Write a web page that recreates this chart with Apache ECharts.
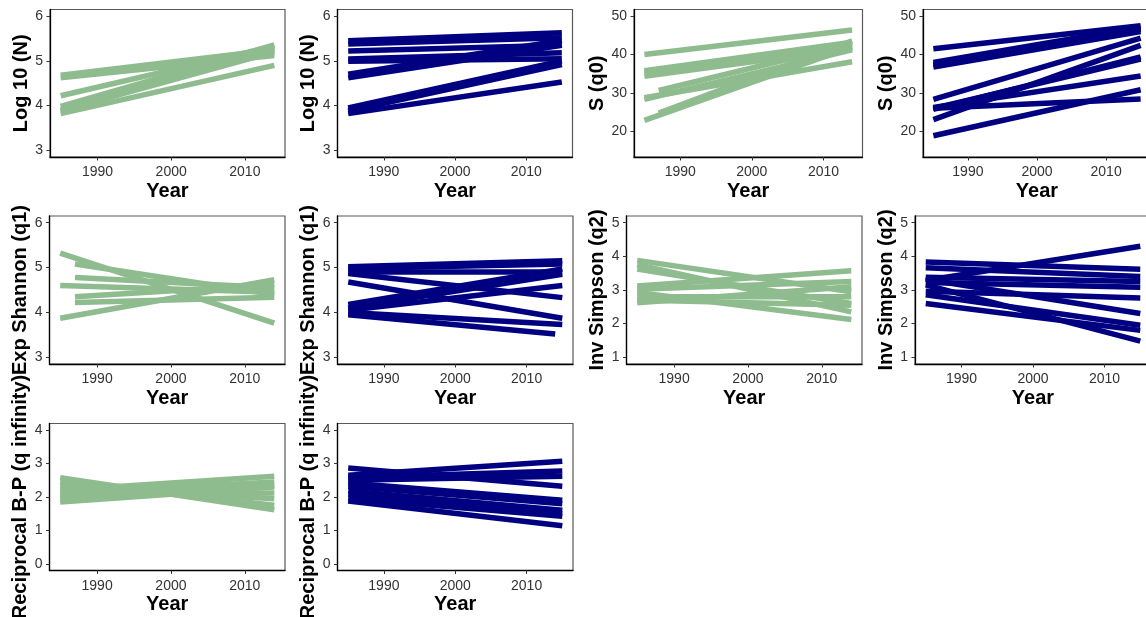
<!DOCTYPE html>
<html><head><meta charset="utf-8">
<script src="https://cdn.jsdelivr.net/npm/echarts@6/dist/echarts.min.js"></script>
<style>html,body{margin:0;padding:0;background:#fff}#c{width:1146px;height:617px}</style>
</head><body><div id="c"></div>
<script>
// ---- data: each row is one fitted line [startYear, startValue, endYear, endValue]
const xTicks = [1990, 2000, 2010];
const tickLog = [3, 4, 5, 6];
const tickS = [20, 30, 40, 50];
const tickShannon = [3, 4, 5, 6];
const tickSimpson = [1, 2, 3, 4, 5];
const tickBP = [0, 1, 2, 3, 4];

const logN_green = [
  [1985, 4.68, 2014, 5.25], [1985, 4.62, 2014, 5.12], [1985, 4.22, 2014, 5.33],
  [1985, 3.98, 2014, 5.36], [1985, 3.90, 2014, 5.27], [1985, 3.88, 2014, 5.20],
  [1985, 3.82, 2014, 4.90]
];
const logN_blue = [
  [1985, 5.45, 2015, 5.63], [1985, 5.38, 2015, 5.52], [1985, 5.22, 2015, 5.35],
  [1985, 5.04, 2015, 5.18], [1985, 4.99, 2015, 5.05], [1985, 4.70, 2015, 5.46],
  [1985, 4.62, 2015, 5.35], [1985, 3.95, 2015, 5.00], [1985, 3.88, 2015, 4.92],
  [1985, 3.82, 2015, 4.53]
];
const S_green = [
  [1985, 40.0, 2014, 46.4], [1985, 35.8, 2014, 43.2], [1985, 35.3, 2014, 42.4],
  [1985, 34.3, 2014, 41.6], [1987, 30.6, 2014, 42.8], [1985, 28.3, 2014, 41.2],
  [1985, 28.7, 2014, 38.1], [1985, 22.8, 2014, 42.0], [1987, 24.7, 2014, 43.6]
];
const S_blue = [
  [1985, 41.5, 2015, 47.5], [1985, 37.9, 2015, 47.2], [1985, 37.3, 2015, 46.6],
  [1985, 36.7, 2015, 46.0], [1985, 28.3, 2015, 44.3], [1985, 26.2, 2015, 34.4],
  [1985, 26.0, 2015, 28.4], [1985, 25.7, 2015, 39.4], [1985, 25.9, 2015, 38.8],
  [1985, 23.0, 2015, 42.4], [1985, 18.8, 2015, 30.8]
];
const shannon_green = [
  [1985, 5.32, 2014, 3.76], [1987, 5.08, 2014, 4.40], [1987, 4.78, 2014, 4.55],
  [1985, 4.60, 2014, 4.45], [1987, 4.35, 2014, 4.62], [1987, 4.22, 2014, 4.34],
  [1985, 3.87, 2014, 4.73]
];
const shannon_blue = [
  [1985, 5.02, 2015, 5.15], [1985, 4.98, 2015, 5.08], [1985, 4.90, 2015, 4.90],
  [1985, 4.87, 2015, 4.33], [1985, 4.68, 2015, 3.87], [1985, 4.18, 2015, 4.97],
  [1985, 4.10, 2015, 4.85], [1985, 4.05, 2015, 4.60], [1985, 4.00, 2015, 3.73],
  [1985, 3.95, 2014, 3.52]
];
const simpson_green = [
  [1985, 3.88, 2014, 2.95], [1985, 3.75, 2014, 2.35], [1985, 3.62, 2014, 2.60],
  [1985, 3.12, 2014, 3.57], [1985, 3.02, 2014, 3.25], [1985, 2.93, 2014, 2.12],
  [1985, 2.80, 2014, 2.80], [1985, 2.62, 2014, 3.10], [1985, 2.70, 2014, 2.55]
];
const simpson_blue = [
  [1985, 3.83, 2015, 3.62], [1985, 3.66, 2015, 3.40], [1985, 3.28, 2015, 4.30],
  [1985, 3.38, 2015, 3.25], [1985, 3.22, 2015, 3.08], [1985, 3.32, 2015, 2.30],
  [1985, 3.15, 2015, 1.48], [1985, 2.96, 2015, 2.76], [1985, 2.86, 2015, 1.95],
  [1985, 2.60, 2015, 1.80]
];
const bp_green = [
  [1985, 2.58, 2014, 1.62], [1985, 2.45, 2014, 1.75], [1985, 2.32, 2014, 1.95],
  [1985, 2.20, 2014, 2.62], [1985, 2.12, 2014, 2.45], [1985, 2.05, 2014, 2.12],
  [1985, 1.95, 2014, 2.35], [1985, 1.85, 2014, 2.30]
];
const bp_blue = [
  [1985, 2.87, 2015, 2.32], [1985, 2.65, 2015, 3.07], [1985, 2.58, 2015, 2.78],
  [1985, 2.50, 2015, 2.62], [1985, 2.42, 2015, 1.90], [1985, 2.32, 2015, 1.80],
  [1985, 2.18, 2015, 1.60], [1985, 2.08, 2015, 1.50], [1985, 1.96, 2015, 1.42],
  [1985, 1.88, 2015, 1.14]
];

// ---- layout / style
const GREEN = '#8FBC8F', BLUE = '#000080';
const FONT = 'Liberation Sans, Arial, sans-serif';
const panels = [
  {d: logN_green, c: GREEN, t: 'Log 10 (N)', yt: tickLog, ymin: 2.85, ymax: 6.15, xmax: 2015.45, L: 50, T: 9.5, W: 235, H: 147.5, g: 13},
  {d: logN_blue, c: BLUE, t: 'Log 10 (N)', yt: tickLog, ymin: 2.85, ymax: 6.15, xmax: 2016.5, L: 337.5, T: 9.5, W: 235, H: 147.5, g: 13},
  {d: S_green, c: GREEN, t: 'S (q0)', yt: tickS, ymin: 13.25, ymax: 51.75, xmax: 2015.45, L: 634, T: 9.5, W: 228.5, H: 147.5, g: 20},
  {d: S_blue, c: BLUE, t: 'S (q0)', yt: tickS, ymin: 13.25, ymax: 51.75, xmax: 2016.5, L: 923, T: 9.5, W: 228, H: 147.5, g: 20},
  {d: shannon_green, c: GREEN, t: 'Exp Shannon (q1)', yt: tickShannon, ymin: 2.85, ymax: 6.15, xmax: 2015.45, L: 49.5, T: 216, W: 235.5, H: 148, g: 13},
  {d: shannon_blue, c: BLUE, t: 'Exp Shannon (q1)', yt: tickShannon, ymin: 2.85, ymax: 6.15, xmax: 2016.5, L: 337.5, T: 216, W: 235.5, H: 148, g: 13},
  {d: simpson_green, c: GREEN, t: 'Inv Simpson (q2)', yt: tickSimpson, ymin: 0.8, ymax: 5.2, xmax: 2015.45, L: 626.5, T: 216, W: 235.5, H: 148, g: 14},
  {d: simpson_blue, c: BLUE, t: 'Inv Simpson (q2)', yt: tickSimpson, ymin: 0.8, ymax: 5.2, xmax: 2016.5, L: 915, T: 216, W: 236, H: 148, g: 15},
  {d: bp_green, c: GREEN, t: 'Reciprocal B-P (q infinity)', yt: tickBP, ymin: -0.2, ymax: 4.2, xmax: 2015.45, L: 49.5, T: 423.5, W: 235.5, H: 147, g: 13},
  {d: bp_blue, c: BLUE, t: 'Reciprocal B-P (q infinity)', yt: tickBP, ymin: -0.2, ymax: 4.2, xmax: 2016.5, L: 337.5, T: 423.5, W: 235.5, H: 147, g: 13}
];

const grid = [], xAxis = [], yAxis = [], series = [];
panels.forEach((p, i) => {
  grid.push({left: p.L, top: p.T, width: p.W, height: p.H, show: true,
    borderColor: '#595959', borderWidth: 1.2, backgroundColor: '#fff',
    containLabel: false, outerBoundsMode: 'none'});
  const lab = {fontSize: 14, color: '#333', fontFamily: FONT, formatter: v => String(v)};
  const nameStyle = {fontSize: 20, fontWeight: 'bold', color: '#000', fontFamily: FONT};
  xAxis.push({type: 'value', gridIndex: i, min: p.xmax > 2016 ? 1983.5 : 1983.55, max: p.xmax,
    axisLine: {show: true, onZero: false, lineStyle: {color: '#000', width: 1.3}},
    axisTick: {show: true, length: 3.5, customValues: xTicks, lineStyle: {color: '#333'}},
    axisLabel: Object.assign({customValues: xTicks, margin: 8.5}, lab),
    splitLine: {show: false},
    name: 'Year', nameLocation: 'middle', nameGap: 24, nameTextStyle: nameStyle});
  yAxis.push({type: 'value', gridIndex: i, min: p.ymin, max: p.ymax,
    axisLine: {show: true, onZero: false, lineStyle: {color: '#000', width: 1.3}},
    axisTick: {show: true, length: 3.5, customValues: p.yt, lineStyle: {color: '#333'}},
    axisLabel: Object.assign({customValues: p.yt, margin: 7}, lab),
    splitLine: {show: false},
    name: p.t, nameLocation: 'middle', nameGap: p.g, nameTextStyle: nameStyle});
  p.d.forEach(seg => {
    series.push({type: 'line', xAxisIndex: i, yAxisIndex: i, symbol: 'none', silent: true,
      data: [[seg[0], seg[1]], [seg[2], seg[3]]],
      lineStyle: {width: 5.5, color: p.c, cap: 'butt'}});
  });
});

const chart = echarts.init(document.getElementById('c'), null, {renderer: 'canvas'});
chart.setOption({animation: false, backgroundColor: '#fff', grid, xAxis, yAxis, series});
</script>
</body></html>
